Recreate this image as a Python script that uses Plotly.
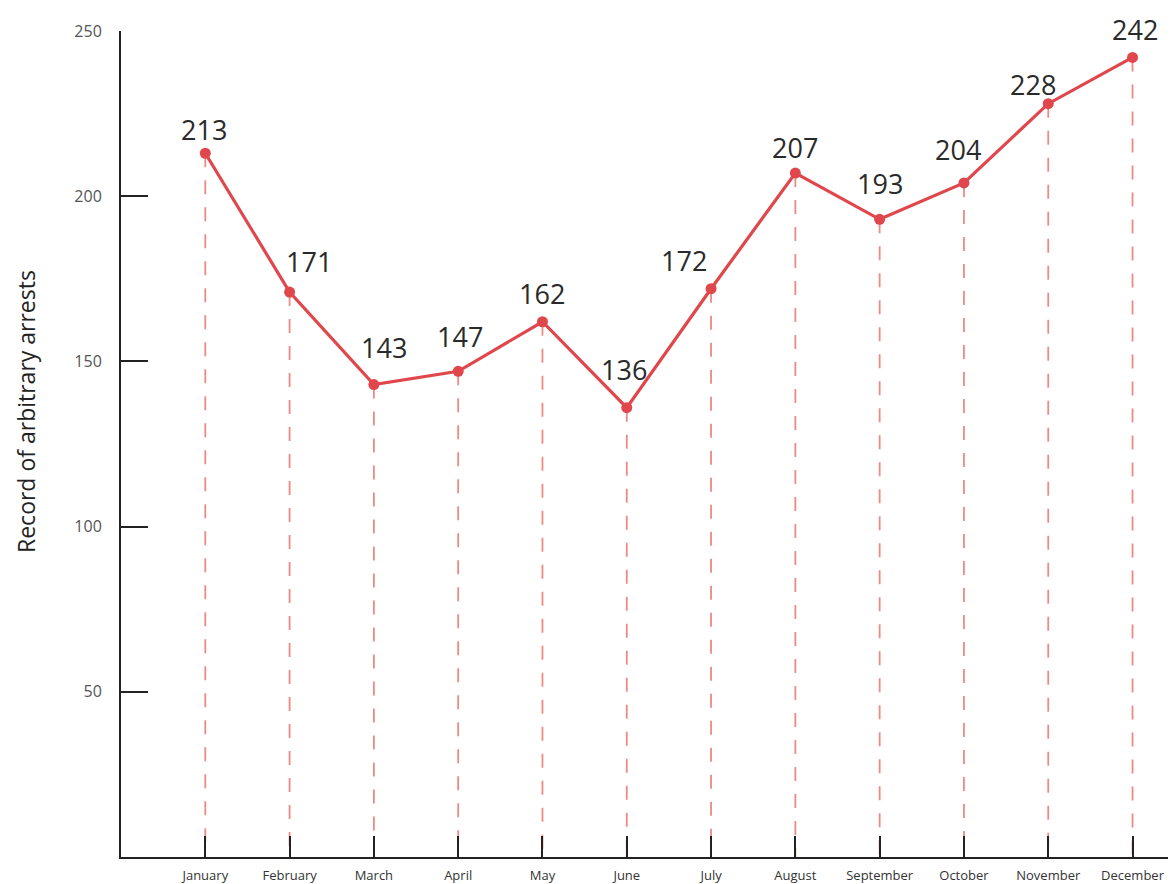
import plotly.graph_objects as go

months = ["January", "February", "March", "April", "May", "June", "July",
          "August", "September", "October", "November", "December"]
arrests = [213, 171, 143, 147, 162, 136, 172, 207, 193, 204, 228, 242]
y_ticks = [50, 100, 150, 200, 250]

# label nudges (pixels) relative to each point
label_dx = [-1, 19, 10, 2, 0, -3, -27, 0, 0, -6, -15, 2]
label_dy = [24, 31, 37, 35, 28, 38, 28, 26, 36, 33, 19, 28]

idx = list(range(len(months)))

# dashed drop lines built from the data
drop_x, drop_y = [], []
for i, v in zip(idx, arrests):
    drop_x += [i, i, None]
    drop_y += [v, 0, None]

red = "#E0474C"

fig = go.Figure()
fig.add_trace(go.Scatter(
    x=drop_x, y=drop_y, mode="lines",
    line=dict(color="#EE8A84", width=1.8, dash="14px,13px"),
    hoverinfo="skip", showlegend=False,
))
fig.add_trace(go.Scatter(
    x=idx, y=arrests, mode="lines+markers",
    line=dict(color=red, width=3.2),
    marker=dict(color=red, size=11),
    cliponaxis=False, showlegend=False,
))

annotations = []
for i, v, dx, dy in zip(idx, arrests, label_dx, label_dy):
    annotations.append(dict(
        x=i, y=v, xref="x", yref="y", text=str(v), showarrow=False,
        xanchor="center", yanchor="middle", xshift=dx, yshift=dy,
        font=dict(family="Open Sans", size=27, color="#2a2a2a"),
    ))
annotations.append(dict(
    x=0, y=(857 - 412) / 826, xref="paper", yref="paper",
    text="Record of arbitrary arrests", showarrow=False, textangle=-90,
    xanchor="center", yanchor="middle", xshift=-95,
    font=dict(family="Open Sans", size=23, color="#222"),
))

fig.update_layout(
    width=1168, height=876,
    margin=dict(l=113, r=3, t=23, b=27),
    plot_bgcolor="white", paper_bgcolor="white",
    font=dict(family="Open Sans", color="#333"),
    annotations=annotations,
)
fig.update_xaxes(
    range=[-1, 11.48], automargin=False,
    tickmode="array", tickvals=idx, ticktext=months,
    ticks="inside", ticklen=21, tickwidth=2, tickcolor="#222",
    showline=True, linecolor="#222", linewidth=2,
    showgrid=False, zeroline=False,
    tickfont=dict(family="Open Sans", size=13, color="#333"),
    ticklabelstandoff=5,
)
fig.update_yaxes(
    range=[0, 250], automargin=False,
    tickmode="array", tickvals=y_ticks,
    ticks="inside", ticklen=27, tickwidth=2, tickcolor="#222",
    showline=True, linecolor="#222", linewidth=2,
    showgrid=False, zeroline=False,
    tickfont=dict(family="Open Sans", size=16, color="#555"),
    ticklabelstandoff=14,
)

fig.write_html("out.html")
